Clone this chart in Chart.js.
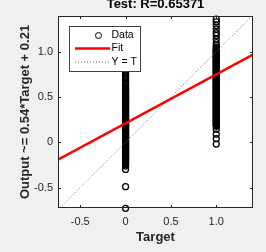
<!DOCTYPE html>
<html><head><meta charset="utf-8">
<script src="https://cdn.jsdelivr.net/npm/chart.js@4.4.0/dist/chart.umd.min.js"></script>
<style>html,body{margin:0;padding:0;background:#f0f0f0;overflow:hidden;} canvas{display:block;}</style>
</head><body>
<canvas id="c" width="266" height="252"></canvas>
<script>
const chartTitle = 'Test: R=0.65371';
const xAxisTitle = 'Target';
const yAxisTitle = 'Output ~= 0.54*Target + 0.21';
const legendLabels = ['Data', 'Fit', 'Y = T'];
const targetValues = [0, 1];
const outputsAtTarget0 = [-0.73, -0.49, -0.30, -0.262, -0.245, -0.236, -0.226, -0.215, -0.206, -0.197, -0.186, -0.177, -0.166, -0.157, -0.147, -0.136, -0.127, -0.118, -0.107, -0.098, -0.088, -0.077, -0.068, -0.058, -0.048, -0.039, -0.028, -0.019, -0.009, 0.001, 0.011, 0.02, 0.031, 0.04, 0.05, 0.061, 0.07, 0.08, 0.091, 0.1, 0.11, 0.121, 0.13, 0.14, 0.151, 0.16, 0.17, 0.181, 0.19, 0.2, 0.211, 0.22, 0.23, 0.241, 0.25, 0.26, 0.271, 0.28, 0.29, 0.301, 0.31, 0.32, 0.331, 0.34, 0.35, 0.361, 0.37, 0.38, 0.391, 0.4, 0.41, 0.421, 0.43, 0.44, 0.451, 0.46, 0.47, 0.481, 0.49, 0.5, 0.511, 0.52, 0.53, 0.541, 0.55, 0.56, 0.572, 0.584, 0.597, 0.61, 0.624, 0.64, 0.655, 0.67, 0.69, 0.71, 0.73, 0.755, 0.775, 0.80, 0.83, 0.86, 0.90, 0.95];
const outputsAtTarget1 = [1.36, 1.33, 1.29, 1.25, 1.21, 1.18, 1.14, 1.10, 1.07, 1.05, 1.035, 1.024, 1.013, 1.003, 0.993, 0.982, 0.972, 0.962, 0.951, 0.941, 0.931, 0.92, 0.91, 0.9, 0.889, 0.879, 0.869, 0.858, 0.848, 0.838, 0.827, 0.817, 0.807, 0.796, 0.786, 0.776, 0.765, 0.755, 0.745, 0.734, 0.724, 0.714, 0.703, 0.693, 0.683, 0.672, 0.662, 0.652, 0.641, 0.631, 0.621, 0.61, 0.6, 0.59, 0.579, 0.569, 0.559, 0.548, 0.538, 0.528, 0.517, 0.507, 0.497, 0.486, 0.476, 0.466, 0.455, 0.445, 0.435, 0.424, 0.414, 0.404, 0.393, 0.383, 0.373, 0.362, 0.352, 0.342, 0.331, 0.321, 0.311, 0.3, 0.29, 0.28, 0.269, 0.259, 0.249, 0.238, 0.228, 0.218, 0.207, 0.197, 0.187, 0.176, 0.145, 0.09, 0.04, -0.02];
const fitCoefficients = [0.54, 0.21]; // slope, intercept
const xLimits = [-0.745, 1.405];
const yLimits = [-0.726, 1.395];
const tickValues = [-0.5, 0, 0.5, 1];

const FONT = "'Liberation Sans', Arial, Helvetica, sans-serif";
Chart.defaults.font.family = FONT;

const dataPoints = []
  .concat(outputsAtTarget0.map(v => ({x: targetValues[0], y: v})))
  .concat(outputsAtTarget1.map(v => ({x: targetValues[1], y: v})));
const fitPoints = xLimits.map(x => ({x: x, y: fitCoefficients[0] * x + fitCoefficients[1]}));
const identityPoints = xLimits.map(x => ({x: x, y: x}));

const frame = {
  id: 'frame',
  beforeDatasetsDraw(chart) {
    const {ctx, chartArea: a} = chart;
    ctx.save();
    ctx.fillStyle = '#ffffff';
    ctx.fillRect(a.left, a.top, a.right - a.left, a.bottom - a.top);
    ctx.restore();
  },
  afterDatasetsDraw(chart) {
    const {ctx, chartArea: a, scales} = chart;
    ctx.save();
    ctx.strokeStyle = '#262626';
    ctx.lineWidth = 1;
    ctx.strokeRect(Math.round(a.left) + 0.5, Math.round(a.top) + 0.5, Math.round(a.right - a.left) - 1, Math.round(a.bottom - a.top) - 1);
    const tl = 3;
    ctx.beginPath();
    tickValues.forEach(v => {
      const px = Math.round(scales.x.getPixelForValue(v)) + 0.5;
      ctx.moveTo(px, a.bottom); ctx.lineTo(px, a.bottom - tl);
      ctx.moveTo(px, a.top); ctx.lineTo(px, a.top + tl);
      const py = Math.round(scales.y.getPixelForValue(v)) + 0.5;
      ctx.moveTo(a.left, py); ctx.lineTo(a.left + tl, py);
      ctx.moveTo(a.right, py); ctx.lineTo(a.right - tl, py);
    });
    ctx.stroke();

    // legend
    const lx = a.left + 11, ly = a.top + 10, lw = 71, lh = 45;
    ctx.fillStyle = '#ffffff';
    ctx.fillRect(lx, ly, lw, lh);
    ctx.strokeStyle = '#404040';
    ctx.strokeRect(Math.round(lx) + 0.5, Math.round(ly) + 0.5, lw, lh);
    const rows = [ly + 9.5, ly + 22.5, ly + 36];
    const sx0 = lx + 6, sx1 = lx + 41;
    ctx.strokeStyle = '#000';
    ctx.lineWidth = 1;
    ctx.beginPath();
    ctx.arc((sx0 + sx1) / 2 + 6, rows[0], 3, 0, Math.PI * 2);
    ctx.stroke();
    ctx.strokeStyle = '#ff0000';
    ctx.lineWidth = 2.5;
    ctx.beginPath(); ctx.moveTo(sx0, rows[1]); ctx.lineTo(sx1, rows[1]); ctx.stroke();
    ctx.strokeStyle = '#666';
    ctx.lineWidth = 1;
    ctx.setLineDash([1, 2]);
    ctx.beginPath(); ctx.moveTo(sx0, rows[2]); ctx.lineTo(sx1, rows[2]); ctx.stroke();
    ctx.setLineDash([]);
    ctx.fillStyle = '#000';
    ctx.font = '10.5px ' + FONT;
    ctx.textBaseline = 'middle';
    ctx.textAlign = 'left';
    legendLabels.forEach((t, i) => ctx.fillText(t, sx1 + 1.5, rows[i]));
    ctx.restore();
  }
};

new Chart(document.getElementById('c'), {
  type: 'scatter',
  data: {
    datasets: [
      {label: legendLabels[0], data: dataPoints, showLine: false, pointStyle: 'circle', pointRadius: 3, pointBorderWidth: 1.3, borderColor: '#000', backgroundColor: 'rgba(0,0,0,0)', order: 3, clip: false},
      {label: legendLabels[2], data: identityPoints, showLine: true, pointRadius: 0, borderColor: '#777', borderWidth: 1, borderDash: [1, 2], order: 2},
      {label: legendLabels[1], data: fitPoints, showLine: true, pointRadius: 0, borderColor: '#ff0000', borderWidth: 2.5, order: 1}
    ]
  },
  options: {
    responsive: false,
    animation: false,
    events: [],
    layout: {padding: {left: 0, right: 13, top: 0, bottom: 0}},
    plugins: {
      legend: {display: false},
      tooltip: {enabled: false},
      title: {display: true, text: chartTitle, fullSize: false, color: '#000', font: {size: 13, weight: 'bold', lineHeight: 0.75}, padding: {top: 0, bottom: 6.25}}
    },
    scales: {
      x: {
        type: 'linear', position: 'bottom', min: xLimits[0], max: xLimits[1],
        afterBuildTicks: s => { s.ticks = tickValues.map(v => ({value: v})); },
        afterFit: s => { s.height = 44; },
        grid: {display: false, drawTicks: false},
        border: {display: false},
        ticks: {color: '#262626', font: {size: 11}, padding: 7, maxRotation: 0, autoSkip: false},
        title: {display: true, text: xAxisTitle, color: '#262626', font: {size: 13, weight: 'bold'}, padding: {top: 0, bottom: 7.2}}
      },
      y: {
        type: 'linear', position: 'left', min: yLimits[0], max: yLimits[1],
        afterBuildTicks: s => { s.ticks = tickValues.map(v => ({value: v})); },
        afterFit: s => { s.width = 58; },
        grid: {display: false, drawTicks: false},
        border: {display: false},
        ticks: {color: '#262626', font: {size: 11}, padding: 5, autoSkip: false},
        title: {display: true, text: yAxisTitle, color: '#262626', font: {size: 13, weight: 'bold'}, padding: {top: 17.2, bottom: 0}}
      }
    }
  },
  plugins: [frame]
});
</script>
</body></html>
